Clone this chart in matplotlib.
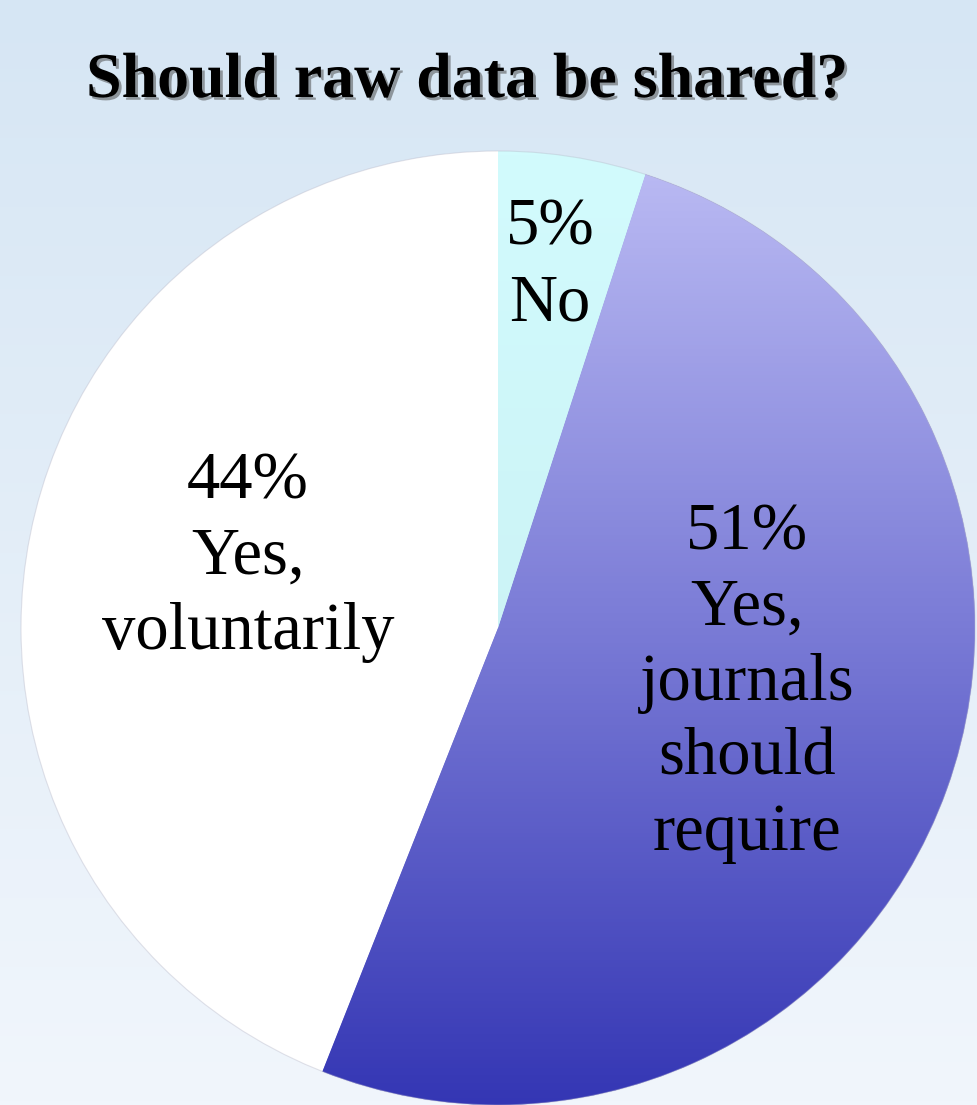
import numpy as np
import matplotlib
matplotlib.use("Agg")
import matplotlib.pyplot as plt
import matplotlib.patheffects as pe
from matplotlib.colors import LinearSegmentedColormap

# ---- data ----
title = "Should raw data be shared?"
categories = ["No", "Yes, journals should require", "Yes, voluntarily"]
values = [5, 51, 44]
label_text = ["5%\nNo", "51%\nYes,\njournals\nshould\nrequire", "44%\nYes,\nvoluntarily"]

W, H = 977, 1105
fig = plt.figure(figsize=(9.77, 11.05), dpi=100)
ax = fig.add_axes([0, 0, 1, 1])

cx, cy, R = 498, H - 628, 477

wedges, _ = ax.pie(values, startangle=90, counterclock=False,
                   center=(cx, cy), radius=R,
                   colors=["#d0f9fb", "#7a7ad8", "white"],
                   wedgeprops=dict(linewidth=0), frame=True)
for w in wedges:
    w.set_zorder(2)

ax.set_xlim(0, W)
ax.set_ylim(0, H)
ax.set_aspect("auto")
ax.axis("off")

# background gradient
grad = np.linspace(0, 1, 256).reshape(-1, 1)
bg_cmap = LinearSegmentedColormap.from_list("bg", ["#f1f6fc", "#d6e6f4"])
ax.imshow(grad, extent=[0, W, 0, H], origin="lower", cmap=bg_cmap,
          aspect="auto", zorder=0)

# gradient fills for slices
j_cmap = LinearSegmentedColormap.from_list("j", ["#3436b4", "#7a7bd6", "#bcbcf4"])
im = ax.imshow(grad, extent=[0, W, cy - R, cy + R], origin="lower", cmap=j_cmap,
               aspect="auto", zorder=3)
im.set_clip_path(wedges[1])

n_cmap = LinearSegmentedColormap.from_list("n", ["#c6ecf0", "#d2fbfd"])
im2 = ax.imshow(grad, extent=[0, W, cy - R, cy + R], origin="lower", cmap=n_cmap,
                aspect="auto", zorder=3)
im2.set_clip_path(wedges[0])

# faint outline
circ = plt.Circle((cx, cy), R, fill=False, edgecolor="#b8b8c8", lw=0.8,
                  alpha=0.4, zorder=4)
ax.add_patch(circ)

# labels
label_pos = [(550, H - 266), (747, H - 683), (248, H - 557)]
for txt, (x, y) in zip(label_text, label_pos):
    ax.text(x, y, txt, fontsize=48, family="Liberation Serif", color="black",
            ha="center", va="center", multialignment="center",
            linespacing=1.30, zorder=5)

# title
ax.text(467, H - 97, title, fontsize=46, fontweight="bold",
        family="Liberation Serif", ha="center", va="baseline", color="black",
        zorder=5,
        path_effects=[pe.SimplePatchShadow(offset=(2, -2), shadow_rgbFace="#444444", alpha=0.5),
                      pe.Normal()])

fig.savefig("out.png", dpi=100)
